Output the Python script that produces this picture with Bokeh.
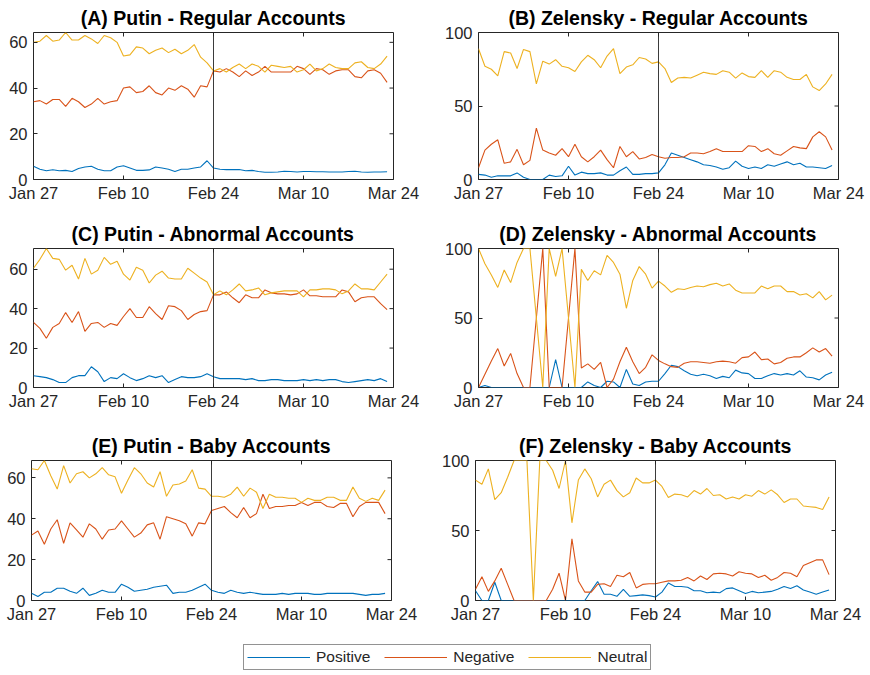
import math
import pandas as pd
from bokeh.plotting import figure
from bokeh.models import Range1d, FixedTicker, Span, Legend, LegendItem
from bokeh.layouts import column, row
from bokeh.embed import file_html
from bokeh.resources import INLINE

# ---------------- data ----------------
start_date = "2022-01-27"
end_date = "2022-03-24"
invasion_date = "2022-02-24"
n_days = 56
tick_dates = ["2022-01-27", "2022-02-10", "2022-02-24", "2022-03-10", "2022-03-24"]
tick_labels = ["Jan 27", "Feb 10", "Feb 24", "Mar 10", "Mar 24"]
putin_yticks = [0, 20, 40, 60]
zelensky_yticks = [0, 50, 100]
series_names = ["Positive", "Negative", "Neutral"]

# (A) Putin - Regular
pr_pos = [5.8, 4.5, 3.8, 4.3, 3.8, 4, 3.5, 4.8, 5.5, 5.8, 4.5, 3.8, 3.8, 5.5, 6, 5, 4, 4, 4.2, 5.5, 5, 4.5, 3.5, 4.5, 4.5, 5, 5.5, 8.2,
          5, 4.5, 4.3, 4.3, 4.4, 3.8, 4, 3.5, 3.2, 3.2, 3.3, 3.6, 3.5, 3.3, 3.5, 3.5, 3.4, 3.4, 3.3, 3.3, 3.3, 3.5, 3.6, 3.3, 3.2, 3.3, 3.3, 3.4]
pr_neg = [34, 34.5, 33, 35, 35, 32, 35.5, 34, 31.5, 33, 35.5, 33, 34, 34.5, 40, 40.5, 38, 38.5, 41, 38, 37, 40, 39, 41, 39.5, 36, 41, 40.5,
          47.5, 47, 48.5, 47, 45, 47.5, 45.5, 47, 49.5, 47, 47, 47, 47, 49.5, 48.5, 46, 48.5, 48, 46, 47.5, 48, 48, 45, 44.5, 47.5, 48, 46.5, 42.5]
pr_neu = [60, 60.5, 63, 60.5, 61, 64.3, 61, 61, 63, 61.5, 59.5, 63, 62, 60, 54, 54.5, 58, 57.5, 55, 56.5, 57.5, 55.5, 57, 55, 56.5, 59, 53.5, 51,
          47.5, 48.5, 47, 49, 50.5, 48.5, 50.5, 49.5, 47, 50, 49.5, 49, 49.5, 47, 48, 50.5, 47.5, 48.5, 50.5, 49, 48.5, 48.5, 51, 51.5, 49, 48.5, 50.5, 54]

# (B) Zelensky - Regular
zr_pos = [3.5, 3, 1.5, 2.5, 2.5, 2.5, 4.5, 1.5, 0, 0, 0, 3, 2, 2.5, 9, 3, 5, 4, 4, 4.5, 3, 3, 6, 8.5, 3.5, 3.5, 4, 4,
          4.5, 10, 18, 16.5, 15, 13.5, 12, 10, 9.5, 8.5, 7, 8, 12.5, 9, 7.5, 8.5, 7.5, 10, 9, 10.5, 12, 10, 11, 8.5, 8.5, 8, 7.5, 9.5]
zr_neg = [8, 20, 24, 27, 11, 12, 20.5, 10, 13, 35, 20, 18, 16.5, 21, 15.5, 24, 15.5, 12, 15.5, 20, 13.5, 8, 22.5, 15.5, 19, 14, 15, 17,
          15.5, 14.5, 15, 15, 15.5, 18, 18, 17.5, 19, 21, 19, 19, 19, 19, 23, 22.5, 19, 21, 17.5, 16.5, 19.5, 22.5, 21.5, 21, 29, 32.5, 29, 20]
zr_neu = [89, 77, 75, 70.5, 87, 86, 75.5, 88.5, 87, 65, 80.5, 78.5, 81.5, 77, 76, 73.5, 80, 84.5, 81.5, 76, 84, 89, 72, 76.5, 78, 83, 82, 79,
          80, 75.5, 66, 69, 69.5, 69, 71, 73, 72, 71.5, 74, 73, 69, 72.5, 70, 69.5, 74, 69.5, 74, 73, 69.5, 68, 68, 71.5, 63, 60.5, 65, 71.5]

# (C) Putin - Abnormal
pa_pos = [6, 5.5, 5, 4, 2.5, 2.5, 5, 6, 6, 10.5, 8, 3, 5, 4.5, 7, 5, 3.5, 4.5, 6, 5, 6, 2.5, 4, 5.5, 5, 5, 5.5, 7,
          5.5, 4.5, 4.5, 4.5, 4.5, 4, 4.5, 3.5, 3.5, 4, 4, 3.5, 3.5, 3.5, 4, 3.5, 4, 3.5, 4, 4, 3, 2.5, 3, 3.5, 4, 3.5, 4.5, 3]
pa_neg = [33, 30, 25, 30.5, 32.5, 38, 33, 38.5, 28.5, 32.5, 33, 30.5, 32.5, 31.5, 36, 40, 35.5, 35.5, 41, 37.5, 34.5, 41.5, 41, 39, 34.5, 37, 38.5, 39,
          47, 47, 48.5, 45.5, 43, 47, 45.5, 45.5, 49.5, 48, 47.5, 47.5, 47, 47.5, 49.5, 46.5, 46.5, 46, 46, 46, 49.5, 48.5, 43.5, 45.5, 46, 46, 42.5, 39.5]
pa_neu = [60.5, 65, 70.5, 65.5, 65, 59.5, 62, 55, 65.5, 57.5, 59.5, 66, 62.5, 64, 57.5, 54.5, 61, 59.5, 53, 57, 59, 55.5, 55, 55, 60.5, 58, 55.5, 53.5,
          47, 49, 47, 49.5, 52.5, 49, 49.5, 50.5, 47, 48, 48.5, 49, 49, 49, 46, 49.5, 49.5, 50, 50, 49.5, 47.5, 49, 52.5, 50, 50, 49.5, 53.5, 57.5]

# (D) Zelensky - Abnormal
za_pos = [0, 1.5, 0, 0, 0, 0, 0, 0, 0, 0, 0, 0, 20, 0, 0, 0, 0, 4, 1.5, 0, 4.5, 4, 0, 13, 2.5, 1.5, 4, 4.5,
          4.5, 10, 16, 15, 12, 9.5, 8.5, 9.5, 8.5, 6.5, 8, 7, 12.5, 10.5, 10, 6.5, 6.5, 8.5, 10, 9, 10, 9, 12, 7.5, 7, 5.5, 9, 11]
za_neg = [0, 9.5, 19, 28, 15.5, 24.5, 10, 0, 0, 50, 100, 0, 0, 0, 50, 100, 14, 17, 13, 18, 0, 6, 18.5, 29, 18.5, 10, 14.5, 23.5,
          19.5, 17, 15, 14.5, 17.5, 18.5, 18.5, 18, 17.5, 18.5, 19, 18.5, 17.5, 21.5, 22, 25.5, 20, 20.5, 17, 18, 21, 22, 22, 25, 28.5, 25.5, 28, 22.5]
za_neu = [100, 89, 81, 72, 84.5, 75.5, 90, 100, 100, 50, 0, 100, 80, 100, 50, 0, 85, 77, 84, 81, 95, 90, 81.5, 57, 77, 87, 81.5, 71.5,
          76.5, 73, 68.5, 71, 70.5, 72, 73, 72.5, 74, 75, 73, 74.5, 70, 68, 68, 68, 73, 71, 73, 73, 69, 69, 66.5, 67.5, 64.5, 69, 63, 66.5]

# (E) Putin - Baby
pb_pos = [3.5, 2, 4, 4, 6, 6, 4.5, 3.5, 6, 2.5, 3.5, 5, 4, 4, 8, 6.5, 4.5, 5, 5.5, 6.5, 7, 7.5, 3.5, 4, 4, 5, 6.5, 8,
          5, 4, 3.5, 5, 4, 3.5, 4, 3.5, 3, 3, 3, 3.5, 3, 3.5, 3.5, 3.5, 3, 3, 3.5, 3.5, 3.5, 3.5, 3.5, 3, 2.5, 3, 3, 3.5]
pb_neg = [32, 34, 27.5, 35, 39.5, 28, 38, 34.5, 31, 37.5, 35, 30, 34.5, 35, 39, 35, 31, 33, 37, 38, 30, 41, 40, 39, 37.5, 31.5, 38, 37.5,
          44, 45, 46, 43, 40.5, 45.5, 40.5, 42.5, 52, 45, 46, 46, 46.5, 46.5, 48, 46.5, 48, 48, 46, 45.5, 47.5, 47.5, 41, 46, 48, 48, 48, 42.5]
pb_neu = [64.5, 64, 68.5, 61, 54.5, 66, 57.5, 62, 63, 60, 62, 65, 61.5, 60.5, 52.5, 59, 65, 62, 57.5, 55.5, 63, 51, 56.5, 57, 58.5, 64, 55, 54.5,
          51, 51, 50.5, 52, 55.5, 51, 55, 53, 45, 52, 50.5, 50.5, 50, 50, 48, 50, 49, 49, 50.5, 50.5, 49, 49, 55.5, 50, 48.5, 50, 49, 54]

# (F) Zelensky - Baby
zb_pos = [7, 0, 0, 13, 0, 0, 0, 0, 0, 0, 0, 0, 0, 0, 0, 0, 0, 0, 7, 13.5, 4.5, 4.5, 3, 8, 3, 3.5, 4, 3.5,
          2.5, 6, 12.5, 10, 10, 9.5, 7, 7, 5.5, 6, 5.5, 8.5, 9, 7, 5, 6.5, 5.5, 6, 6.5, 8, 10, 8.5, 10.5, 7.5, 6, 4.5, 6, 7.5]
zb_neg = [8, 17, 6.5, 14, 23, 11.5, 0, 0, 0, 0, 0, 0, 8, 19.5, 0, 44, 14, 6, 6, 11.5, 12, 10, 18, 17, 20, 9, 11.5, 12,
          12, 13, 14, 14, 14.5, 16.5, 14, 17.5, 15, 19, 19.5, 19, 17.5, 20.5, 19.5, 19, 16.5, 18, 14.5, 16.5, 20, 19.5, 17, 25, 27, 29, 29, 18.5]
zb_neu = [86, 83, 94, 72, 77, 88, 100, 100, 100, 0, 100, 100, 93, 80, 100, 55.5, 86, 94, 87, 74, 83, 86, 78.5, 74, 77, 87.5, 84, 84,
          86, 81.5, 73.5, 76, 75.5, 74, 78.5, 76, 80, 75, 75.5, 72.5, 74, 72.5, 75.5, 74.5, 78.5, 76, 79, 75.5, 70, 72.5, 72.5, 67.5, 67, 66.5, 65, 74]

for arr in [pr_pos, pr_neg, pr_neu, zr_pos, zr_neg, zr_neu, pa_pos, pa_neg, pa_neu,
            za_pos, za_neg, za_neu, pb_pos, pb_neg, pb_neu, zb_pos, zb_neg, zb_neu]:
    assert len(arr) == n_days, len(arr)

# ---------------- styling ----------------
COLORS = ["#0072BD", "#D95319", "#EDB120"]
AX = "#262626"
FONT = "Liberation Sans"
TICK_LEN = 4

start = pd.Timestamp(start_date)
dates = pd.date_range(start, periods=n_days, freq="D")
days = [(d - start).days for d in dates]
x_end = (pd.Timestamp(end_date) - start).days
event_x = (pd.Timestamp(invasion_date) - start).days
tick_x = [(pd.Timestamp(t) - start).days for t in tick_dates]
overrides = {tx: lab for tx, lab in zip(tick_x, tick_labels)}


def panel(title, pos, neg, neu, yticks, y_end, borders, width, height):
    left, right, top, bottom = borders
    p = figure(width=width, height=height, output_backend="svg", toolbar_location=None,
               x_range=Range1d(0, x_end), y_range=Range1d(0, y_end),
               min_border_left=left, min_border_right=right,
               min_border_top=top, min_border_bottom=bottom,
               title=title)
    p.title.text_font = FONT
    p.title.text_font_size = "19.5px"
    p.title.text_font_style = "bold"
    p.title.text_color = "black"
    p.title.align = "center"
    p.title.standoff = 7
    p.grid.visible = False
    p.outline_line_color = AX
    p.outline_line_width = 1
    p.background_fill_color = "white"
    p.border_fill_color = "white"

    for r_vals, c in zip([pos, neg, neu], COLORS):
        p.line(days, r_vals, line_color=c, line_width=1.1)

    p.add_layout(Span(location=event_x, dimension="height", line_color=AX,
                      line_width=1, line_alpha=0.9))

    # mirrored inward ticks on the top and right edges of the box
    p.ray(x=tick_x, y=[y_end] * len(tick_x), length=TICK_LEN, length_units="screen",
          angle=-math.pi / 2, line_color=AX, line_width=1)
    p.ray(x=[x_end] * len(yticks), y=yticks, length=TICK_LEN, length_units="screen",
          angle=math.pi, line_color=AX, line_width=1)

    xa = p.xaxis[0]
    ya = p.yaxis[0]
    xa.ticker = FixedTicker(ticks=tick_x)
    xa.major_label_overrides = overrides
    ya.ticker = FixedTicker(ticks=yticks)
    for ax in (xa, ya):
        ax.major_tick_in = TICK_LEN
        ax.major_tick_out = 0
        ax.minor_tick_in = 0
        ax.minor_tick_out = 0
        ax.axis_line_color = None
        ax.major_tick_line_color = AX
        ax.major_label_text_font = FONT
        ax.major_label_text_font_size = "16.5px"
        ax.major_label_text_color = AX
    xa.major_label_standoff = 4
    ya.major_label_standoff = 6
    return p


pA = panel("(A) Putin - Regular Accounts", pr_pos, pr_neg, pr_neu, putin_yticks,
           max(pr_pos + pr_neg + pr_neu), (33, 42, 30, 38), 435, 217)
pB = panel("(B) Zelensky - Regular Accounts", zr_pos, zr_neg, zr_neu, zelensky_yticks,
           100, (43, 32, 32, 38), 435, 217)
pC = panel("(C) Putin - Abnormal Accounts", pa_pos, pa_neg, pa_neu, putin_yticks,
           max(pa_pos + pa_neg + pa_neu), (33, 42, 22, 42), 435, 212)
pD = panel("(D) Zelensky - Abnormal Accounts", za_pos, za_neg, za_neu, zelensky_yticks,
           100, (43, 32, 22, 42), 435, 212)
pE = panel("(E) Putin - Baby Accounts", pb_pos, pb_neg, pb_neu, putin_yticks,
           max(pb_pos + pb_neg + pb_neu), (31, 44, 23, 30), 435, 201)
pF = panel("(F) Zelensky - Baby Accounts", zb_pos, zb_neg, zb_neu, zelensky_yticks,
           100, (40, 35, 23, 30), 435, 201)

# legend strip
lp = figure(width=870, height=45, output_backend="svg", toolbar_location=None,
            x_range=Range1d(0, 1), y_range=Range1d(0, 1), min_border=0,
            x_axis_location=None, y_axis_location=None)
lp.outline_line_color = None
lp.grid.visible = False
items = []
for name, c in zip(series_names, COLORS):
    r = lp.line(x=[0.0], y=[float("nan")], line_color=c, line_width=1.1)
    items.append(LegendItem(label=name, renderers=[r]))
legend = Legend(items=items, orientation="horizontal", location=(243, 5), margin=0,
                padding=3, spacing=14, glyph_width=63, glyph_height=16, label_height=16,
                label_standoff=6, label_text_font=FONT, label_text_font_size="15.5px",
                label_text_color=AX, border_line_color=AX, border_line_width=1,
                background_fill_color="white", background_fill_alpha=1)
lp.add_layout(legend)

layout = column(row(pA, pB), row(pC, pD), row(pE, pF), lp)

open("out.html", "w").write(file_html(layout, INLINE))
